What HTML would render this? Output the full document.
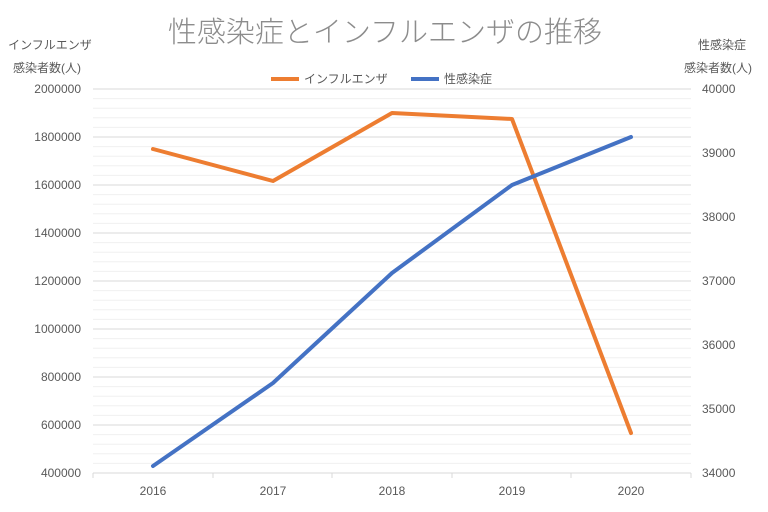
<!DOCTYPE html>
<html><head><meta charset="utf-8"><style>
body{margin:0;background:#fff;}
svg text{font-family:"Liberation Sans","Noto Sans CJK JP",sans-serif;fill:#595959;}
</style></head><body>
<svg width="768" height="507" xmlns="http://www.w3.org/2000/svg">
<rect width="768" height="507" fill="#fff"/>
<g stroke="#f0f0f0" stroke-width="1">
<line x1="93" x2="691" y1="98.6" y2="98.6"/><line x1="93" x2="691" y1="108.2" y2="108.2"/><line x1="93" x2="691" y1="117.8" y2="117.8"/><line x1="93" x2="691" y1="127.4" y2="127.4"/>
<line x1="93" x2="691" y1="146.6" y2="146.6"/><line x1="93" x2="691" y1="156.2" y2="156.2"/><line x1="93" x2="691" y1="165.8" y2="165.8"/><line x1="93" x2="691" y1="175.4" y2="175.4"/>
<line x1="93" x2="691" y1="194.6" y2="194.6"/><line x1="93" x2="691" y1="204.2" y2="204.2"/><line x1="93" x2="691" y1="213.8" y2="213.8"/><line x1="93" x2="691" y1="223.4" y2="223.4"/>
<line x1="93" x2="691" y1="242.6" y2="242.6"/><line x1="93" x2="691" y1="252.2" y2="252.2"/><line x1="93" x2="691" y1="261.8" y2="261.8"/><line x1="93" x2="691" y1="271.4" y2="271.4"/>
<line x1="93" x2="691" y1="290.6" y2="290.6"/><line x1="93" x2="691" y1="300.2" y2="300.2"/><line x1="93" x2="691" y1="309.8" y2="309.8"/><line x1="93" x2="691" y1="319.4" y2="319.4"/>
<line x1="93" x2="691" y1="338.6" y2="338.6"/><line x1="93" x2="691" y1="348.2" y2="348.2"/><line x1="93" x2="691" y1="357.8" y2="357.8"/><line x1="93" x2="691" y1="367.4" y2="367.4"/>
<line x1="93" x2="691" y1="386.6" y2="386.6"/><line x1="93" x2="691" y1="396.2" y2="396.2"/><line x1="93" x2="691" y1="405.8" y2="405.8"/><line x1="93" x2="691" y1="415.4" y2="415.4"/>
<line x1="93" x2="691" y1="434.6" y2="434.6"/><line x1="93" x2="691" y1="444.2" y2="444.2"/><line x1="93" x2="691" y1="453.8" y2="453.8"/><line x1="93" x2="691" y1="463.4" y2="463.4"/>
</g>
<g stroke="#d9d9d9" stroke-width="1">
<line x1="93" x2="691" y1="89" y2="89"/><line x1="93" x2="691" y1="137" y2="137"/><line x1="93" x2="691" y1="185" y2="185"/><line x1="93" x2="691" y1="233" y2="233"/><line x1="93" x2="691" y1="281" y2="281"/><line x1="93" x2="691" y1="329" y2="329"/><line x1="93" x2="691" y1="377" y2="377"/><line x1="93" x2="691" y1="425" y2="425"/><line x1="93" x2="691" y1="473" y2="473"/>
<line x1="93" x2="93" y1="473" y2="478"/><line x1="213" x2="213" y1="473" y2="478"/><line x1="332" x2="332" y1="473" y2="478"/><line x1="452" x2="452" y1="473" y2="478"/><line x1="571" x2="571" y1="473" y2="478"/><line x1="691" x2="691" y1="473" y2="478"/>
</g>
<text x="385" y="42" text-anchor="middle" font-size="29" font-weight="300" style="fill:#8c8c8c">性感染症とインフルエンザの推移</text>
<text x="50" y="49" text-anchor="middle" font-size="12">インフルエンザ</text>
<text x="47" y="72" text-anchor="middle" font-size="12">感染者数(人)</text>
<text x="722" y="49" text-anchor="middle" font-size="12">性感染症</text>
<text x="718" y="72" text-anchor="middle" font-size="12">感染者数(人)</text>
<line x1="271" x2="299" y1="79" y2="79" stroke="#ed7d31" stroke-width="4"/>
<text x="304" y="83" font-size="12">インフルエンザ</text>
<line x1="411" x2="439" y1="79" y2="79" stroke="#4472c4" stroke-width="4"/>
<text x="444" y="83" font-size="12">性感染症</text>
<g font-size="12" text-anchor="end">
<text x="81" y="93">2000000</text><text x="81" y="141">1800000</text><text x="81" y="189">1600000</text><text x="81" y="237">1400000</text><text x="81" y="285">1200000</text><text x="81" y="333">1000000</text><text x="81" y="381">800000</text><text x="81" y="429">600000</text><text x="81" y="477">400000</text>
</g>
<g font-size="12">
<text x="702" y="93">40000</text><text x="702" y="157">39000</text><text x="702" y="221">38000</text><text x="702" y="285">37000</text><text x="702" y="349">36000</text><text x="702" y="413">35000</text><text x="702" y="477">34000</text>
</g>
<g font-size="12" text-anchor="middle">
<text x="153" y="495">2016</text><text x="273" y="495">2017</text><text x="392" y="495">2018</text><text x="512" y="495">2019</text><text x="631" y="495">2020</text>
</g>
<polyline points="153,149 273,181 392,113 512,119 631,433" fill="none" stroke="#ed7d31" stroke-width="4" stroke-linejoin="round" stroke-linecap="round"/>
<polyline points="153,466 273,383 392,273 512,185 631,137" fill="none" stroke="#4472c4" stroke-width="4" stroke-linejoin="round" stroke-linecap="round"/>
</svg>
</body></html>
